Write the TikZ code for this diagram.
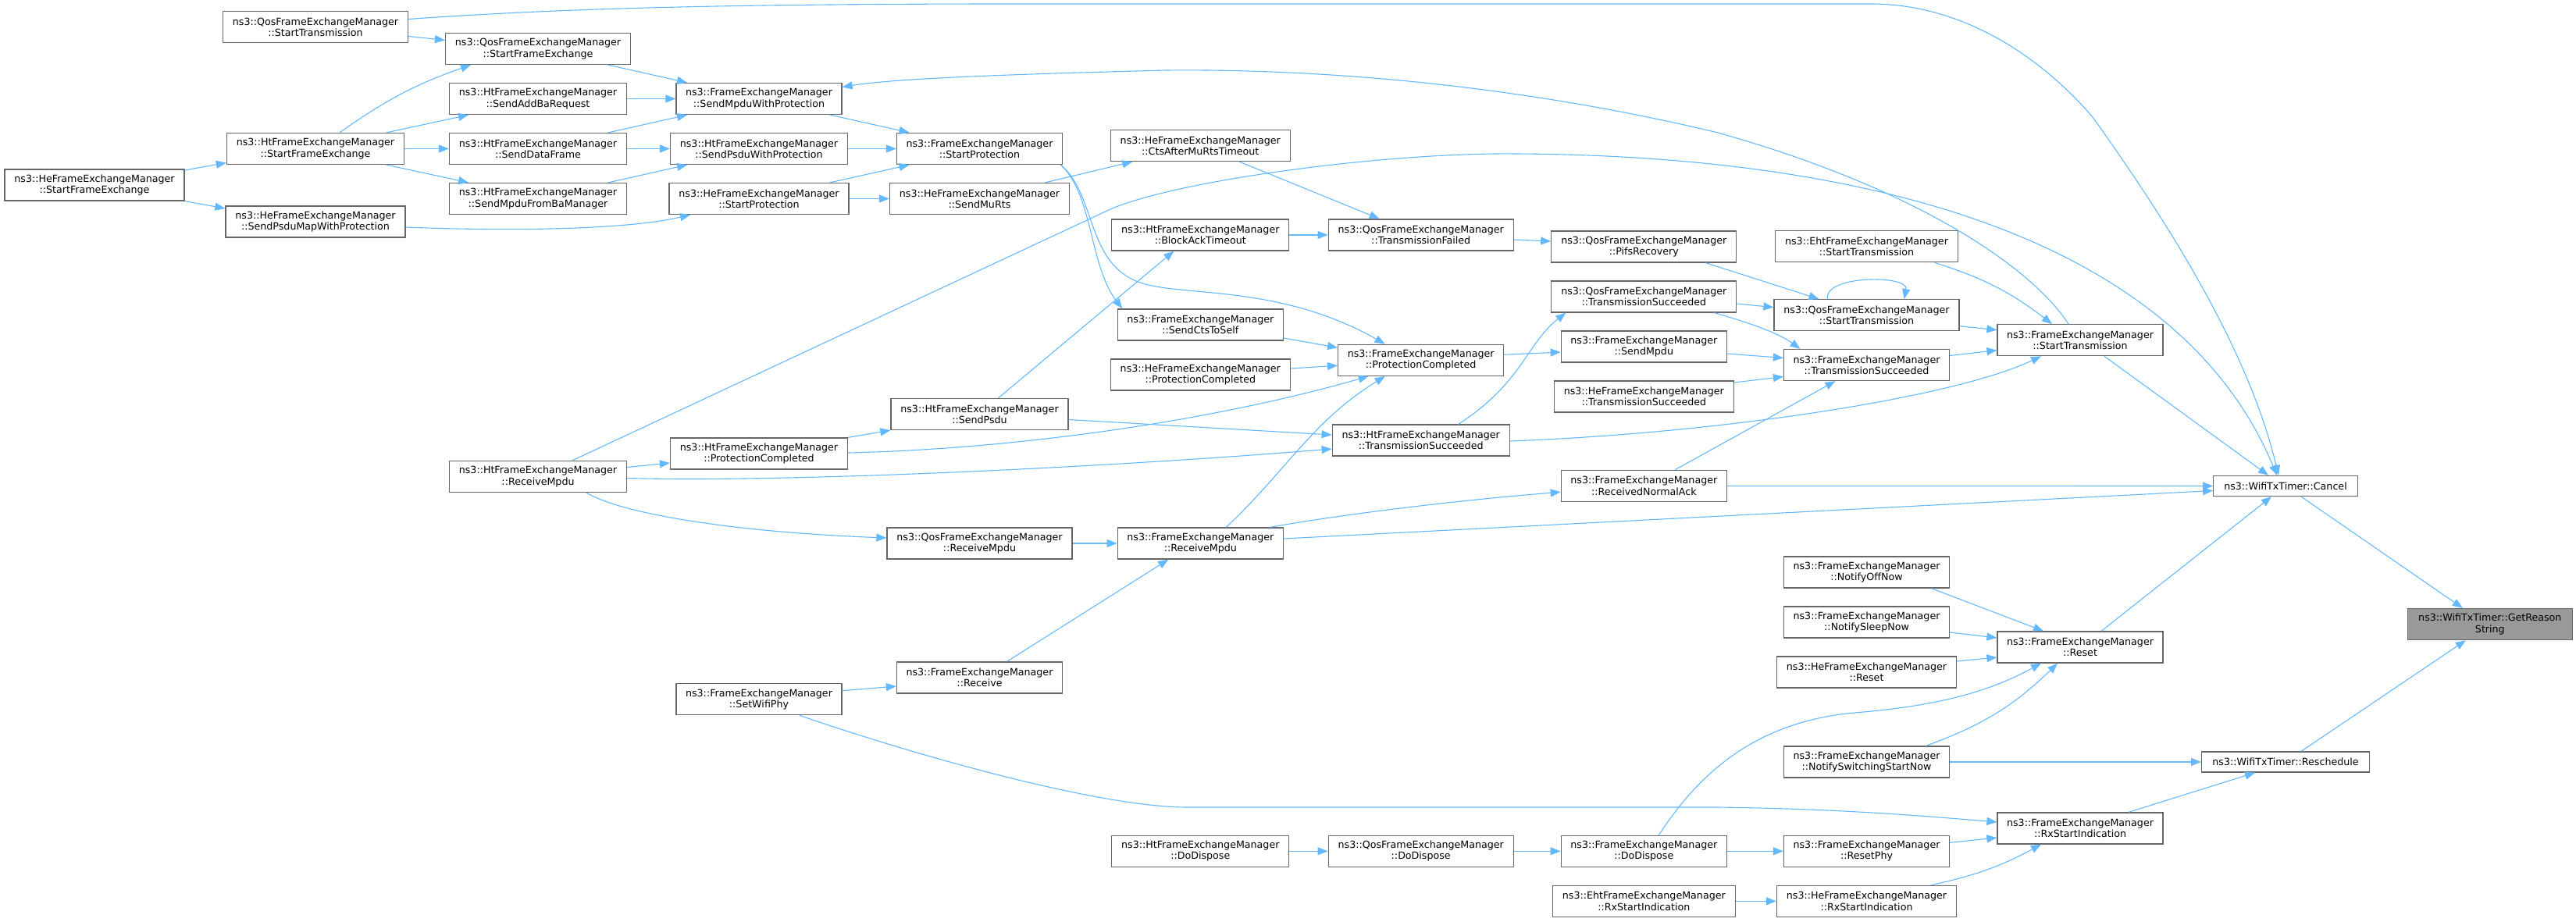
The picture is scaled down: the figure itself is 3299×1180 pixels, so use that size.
\documentclass[tikz,border=0pt]{standalone}
\usepackage{fontspec}
\setmainfont{DejaVu Sans}
\usetikzlibrary{arrows.meta}
\definecolor{edgeblue}{HTML}{63B8FF}
\definecolor{boxgray}{HTML}{666666}
\definecolor{rootgray}{HTML}{999999}
\begin{document}
\begin{tikzpicture}[x=1pt, y=-1pt,
    box/.style={draw=boxgray, fill=white, line width=1.3pt, align=center, inner sep=0pt, minimum height=40pt, font=\fontsize{12.65}{14.2}\selectfont},
    fem/.style={box, minimum width=212pt},
    qos/.style={box, minimum width=237pt},
    ht/.style={box, minimum width=227pt},
    he/.style={box, minimum width=230pt},
    eht/.style={box, minimum width=234pt},
    timer/.style={box, minimum height=26pt},
    call/.style={draw=edgeblue, line width=1.1pt, -{Triangle[length=13pt, width=10pt]}}]
    \useasboundingbox (0, 0) rectangle (3299, 1180);

    % ノードを置く
    \node[he] (HeSFE) at (121, 237) {ns3::HeFrameExchangeManager\\::StartFrameExchange};
    \node[qos] (QosST) at (404, 34.5) {ns3::QosFrameExchangeManager\\::StartTransmission};
    \node[ht] (HtSFE) at (404, 190.5) {ns3::HtFrameExchangeManager\\::StartFrameExchange};
    \node[he] (HeSPMWP) at (404, 284) {ns3::HeFrameExchangeManager\\::SendPsduMapWithProtection};
    \node[qos] (QosSFE) at (689, 62.5) {ns3::QosFrameExchangeManager\\::StartFrameExchange};
    \node[ht] (HtSABR) at (689, 126.5) {ns3::HtFrameExchangeManager\\::SendAddBaRequest};
    \node[ht] (HtSDF) at (689, 190.5) {ns3::HtFrameExchangeManager\\::SendDataFrame};
    \node[ht] (HtSMFBM) at (689, 254.5) {ns3::HtFrameExchangeManager\\::SendMpduFromBaManager};
    \node[ht] (HtRM) at (689, 610.5) {ns3::HtFrameExchangeManager\\::ReceiveMpdu};
    \node[fem] (FemSMWP) at (972, 126.5) {ns3::FrameExchangeManager\\::SendMpduWithProtection};
    \node[ht] (HtSPWP) at (972, 190.5) {ns3::HtFrameExchangeManager\\::SendPsduWithProtection};
    \node[he] (HeSP) at (972, 254.5) {ns3::HeFrameExchangeManager\\::StartProtection};
    \node[ht] (HtPC) at (972, 581) {ns3::HtFrameExchangeManager\\::ProtectionCompleted};
    \node[fem] (FemSWP) at (972, 895.7) {ns3::FrameExchangeManager\\::SetWifiPhy};
    \node[fem] (FemSP) at (1254.5, 190.5) {ns3::FrameExchangeManager\\::StartProtection};
    \node[he] (HeSMR) at (1254.5, 254.5) {ns3::HeFrameExchangeManager\\::SendMuRts};
    \node[ht] (HtSPsdu) at (1254.5, 530.5) {ns3::HtFrameExchangeManager\\::SendPsdu};
    \node[qos] (QosRM) at (1254.5, 696) {ns3::QosFrameExchangeManager\\::ReceiveMpdu};
    \node[fem] (FemRecv) at (1254.5, 868) {ns3::FrameExchangeManager\\::Receive};
    \node[he] (HeCAMRT) at (1537.3, 186.5) {ns3::HeFrameExchangeManager\\::CtsAfterMuRtsTimeout};
    \node[ht] (HtBAT) at (1537.3, 301) {ns3::HtFrameExchangeManager\\::BlockAckTimeout};
    \node[fem] (FemSCTS) at (1537.3, 416) {ns3::FrameExchangeManager\\::SendCtsToSelf};
    \node[he] (HePC) at (1537.3, 480) {ns3::HeFrameExchangeManager\\::ProtectionCompleted};
    \node[fem] (FemRM) at (1537.3, 696) {ns3::FrameExchangeManager\\::ReceiveMpdu};
    \node[ht] (HtDD) at (1537.3, 1090.3) {ns3::HtFrameExchangeManager\\::DoDispose};
    \node[qos] (QosTF) at (1819.7, 301) {ns3::QosFrameExchangeManager\\::TransmissionFailed};
    \node[fem] (FemPC) at (1819.7, 461.3) {ns3::FrameExchangeManager\\::ProtectionCompleted};
    \node[ht] (HtTS) at (1819.7, 564) {ns3::HtFrameExchangeManager\\::TransmissionSucceeded};
    \node[qos] (QosDD) at (1819.7, 1090.3) {ns3::QosFrameExchangeManager\\::DoDispose};
    \node[qos] (QosPR) at (2105.3, 316) {ns3::QosFrameExchangeManager\\::PifsRecovery};
    \node[qos] (QosTS) at (2105.3, 380) {ns3::QosFrameExchangeManager\\::TransmissionSucceeded};
    \node[fem] (FemSM) at (2105.3, 444) {ns3::FrameExchangeManager\\::SendMpdu};
    \node[he] (HeTS) at (2105.3, 508) {ns3::HeFrameExchangeManager\\::TransmissionSucceeded};
    \node[fem] (FemRNA) at (2105.3, 622.3) {ns3::FrameExchangeManager\\::ReceivedNormalAck};
    \node[fem] (FemDD) at (2105.3, 1090.3) {ns3::FrameExchangeManager\\::DoDispose};
    \node[eht] (EhtRSI) at (2105.3, 1154.3) {ns3::EhtFrameExchangeManager\\::RxStartIndication};
    \node[eht] (EhtST) at (2390.5, 315.7) {ns3::EhtFrameExchangeManager\\::StartTransmission};
    \node[qos] (QosSTr) at (2390.5, 403.7) {ns3::QosFrameExchangeManager\\::StartTransmission};
    \node[fem] (FemTS) at (2390.5, 467.5) {ns3::FrameExchangeManager\\::TransmissionSucceeded};
    \node[fem] (FemNON) at (2390.5, 733) {ns3::FrameExchangeManager\\::NotifyOffNow};
    \node[fem] (FemNSN) at (2390.5, 797) {ns3::FrameExchangeManager\\::NotifySleepNow};
    \node[he] (HeReset) at (2390.5, 861) {ns3::HeFrameExchangeManager\\::Reset};
    \node[fem] (FemNSSN) at (2390.5, 976) {ns3::FrameExchangeManager\\::NotifySwitchingStartNow};
    \node[fem] (FemRP) at (2390.5, 1090.3) {ns3::FrameExchangeManager\\::ResetPhy};
    \node[he] (HeRSI) at (2390.5, 1154.3) {ns3::HeFrameExchangeManager\\::RxStartIndication};
    \node[fem] (FemST) at (2664, 435.7) {ns3::FrameExchangeManager\\::StartTransmission};
    \node[fem] (FemReset) at (2664, 829) {ns3::FrameExchangeManager\\::Reset};
    \node[fem] (FemRSI) at (2664, 1061) {ns3::FrameExchangeManager\\::RxStartIndication};
    \node[timer, minimum width=184.5pt] (Cancel) at (2927, 622.5) {ns3::WifiTxTimer::Cancel};
    \node[timer, minimum width=214.7pt] (Resched) at (2927, 976) {ns3::WifiTxTimer::Reschedule};
    \node[box, fill=rootgray, minimum width=211pt] (GRS) at (3188.8, 799.5) {ns3::WifiTxTimer::GetReason\\String};

    % 線を引く
    \draw[call] ([yshift=10pt]QosST.east) .. controls (700, 12) and (900, 5) .. (1300, 5) -- (2396, 5)
        .. controls (2520, 5) and (2620, 80) .. (2680, 150) .. controls (2780, 290) and (2880, 450) .. ([xshift=-9pt]Cancel.north);
    \draw[call] ([yshift=-12pt]QosST.east) -- ([yshift=11pt]QosSFE.west);
    \draw[call] ([xshift=90pt]QosSFE.south) -- ([xshift=-92pt]FemSMWP.north);
    \draw[call] (HtSABR.east) -- (FemSMWP.west);
    \draw[call] ([xshift=31pt]HtSFE.north) to[bend left=8] ([xshift=-86pt]QosSFE.south);
    \draw[call] ([xshift=91pt]HtSFE.north) -- ([xshift=-89pt]HtSABR.south);
    \draw[call] (HtSFE.east) -- (HtSDF.west);
    \draw[call] ([xshift=91pt]HtSFE.south) -- ([xshift=-89pt]HtSMFBM.north);
    \draw[call] ([xshift=90pt]HtSDF.north) -- ([xshift=-92pt]FemSMWP.south);
    \draw[call] (HtSDF.east) -- (HtSPWP.west);
    \draw[call] ([xshift=90pt]HtSMFBM.north) -- ([xshift=-92pt]HtSPWP.south);
    \draw[call] ([yshift=19pt]HeSFE.east) -- ([yshift=-18pt]HtSFE.west);
    \draw[call] (HeSFE.south east) -- ([yshift=17pt]HeSPMWP.west);
    \draw[call] ([yshift=-7pt]HeSPMWP.east) .. controls (640, 296) and (800, 295) .. ([xshift=-88pt]HeSP.south);
    \draw[call] ([xshift=91pt]FemSMWP.south) -- ([xshift=-90pt]FemSP.north);
    \draw[call] (HtSPWP.east) -- (FemSP.west);
    \draw[call] ([xshift=91pt]HeSP.north) -- ([xshift=-90pt]FemSP.south);
    \draw[call] (HeSP.east) -- (HeSMR.west);
    \draw[call] ([xshift=-15pt]FemST.north) .. controls (2600, 340) and (2450, 240) .. (2200, 170)
        .. controls (1950, 110) and (1700, 88) .. (1493, 90) .. controls (1300, 95) and (1150, 100) .. ([yshift=15pt]FemSMWP.east);
    \draw[call] ([xshift=44pt]HtRM.north) -- (1422, 268) .. controls (1510, 230) and (1780, 195) .. (1942, 197)
        .. controls (2450, 200) and (2800, 330) .. ([xshift=-11pt]Cancel.north);
    \draw[call] ([yshift=12pt]HtRM.east) -- ([yshift=-12pt]HtPC.west);
    \draw[call] ([yshift=-2pt]HtRM.east) .. controls (1000, 618) and (1400, 600) .. ([yshift=-11pt]HtTS.west);
    \draw[call] ([xshift=62pt]HtRM.south) .. controls (800, 660) and (950, 682) .. ([yshift=7pt]QosRM.west);
    \draw[call] (HtPC.north east) -- (HtSPsdu.south west);
    \draw[call] ([yshift=1pt]HtPC.east) .. controls (1300, 575) and (1550, 540) .. ([xshift=-67pt]FemPC.south);
    \draw[call] ([xshift=24pt]HtSPsdu.north) -- ([xshift=-34pt]HtBAT.south);
    \draw[call] ([yshift=-7pt]HtSPsdu.east) -- ([yshift=7pt]HtTS.west);
    \draw[call] ([yshift=8pt]HePC.east) -- ([yshift=-7pt]FemPC.west);
    \draw[call] ([xshift=33pt]FemRM.north) .. controls (1650, 600) and (1680, 540) .. ([xshift=-46pt]FemPC.south);
    \draw[call] ([xshift=89pt]FemRM.north) .. controls (1700, 662) and (1850, 642) .. ([yshift=-8pt]FemRNA.west);
    \draw[call] ([yshift=6pt]FemRM.east) -- ([yshift=-6pt]Cancel.west);
    \draw[call] (QosRM.east) -- (FemRM.west);
    \draw[call] ([xshift=35pt]FemRecv.north) -- ([xshift=-41pt]FemRM.south);
    \draw[call] ([yshift=11pt]FemSWP.east) -- ([yshift=-11pt]FemRecv.west);
    \draw[call] ([xshift=52pt]FemSWP.south) .. controls (1150, 960) and (1400, 1034) .. (1521, 1034) -- (2200, 1034)
        .. controls (2350, 1036) and (2450, 1044) .. ([yshift=8pt]FemRSI.west);
    \draw[call] ([xshift=50pt]HeCAMRT.south) -- ([xshift=-53pt]QosTF.north);
    \draw[call] ([xshift=84pt]HeSMR.north) -- ([xshift=-87pt]HeCAMRT.south);
    \draw[call] (HtBAT.east) -- (QosTF.west);
    \draw[call] ([yshift=-6pt]QosTF.east) -- ([yshift=7pt]QosPR.west);
    \draw[call] ([xshift=104pt]FemSP.south) .. controls (1400, 250) and (1395, 340) .. ([xshift=-100pt]FemSCTS.north);
    \draw[call] ([xshift=104pt]FemSP.south) .. controls (1405, 250) and (1390, 340) .. (1463, 363)
        .. controls (1520, 380) and (1640, 365) .. ([xshift=-46pt]FemPC.north);
    \draw[call] ([yshift=-17pt]FemSCTS.east) -- ([yshift=16pt]FemPC.west);
    \draw[call] ([yshift=7pt]FemPC.east) -- ([yshift=-7pt]FemSM.west);
    \draw[call] ([xshift=48pt]HtTS.north) .. controls (1950, 490) and (1955, 440) .. ([xshift=-100pt]QosTS.south);
    \draw[call] ([xshift=79pt]QosPR.south) -- ([xshift=-61pt]QosSTr.north);
    \draw[call] ([yshift=-9pt]QosTS.east) -- ([yshift=10pt]QosSTr.west);
    \draw[call] ([xshift=90pt]QosTS.south) .. controls (2235, 412) and (2275, 425) .. ([xshift=-85pt]FemTS.north);
    \draw[call] ([yshift=-9pt]FemSM.east) -- ([yshift=9pt]FemTS.west);
    \draw[call] ([xshift=-50pt]QosSTr.north) .. controls (2335, 352) and (2445, 352) .. ([xshift=48pt]QosSTr.north);
    \draw[call] ([yshift=-14pt]QosSTr.east) -- ([yshift=13pt]FemST.west);
    \draw[call] ([xshift=87pt]EhtST.south) to[bend left=10] ([xshift=-36pt]FemST.north);
    \draw[call] ([yshift=12pt]FemTS.east) -- ([yshift=-13pt]FemST.west);
    \draw[call] ([yshift=-1pt]HtTS.east) .. controls (2200, 555) and (2500, 510) .. ([xshift=-50pt]FemST.south);
    \draw[call] ([xshift=40pt]FemRNA.north) -- ([xshift=-40pt]FemTS.south);
    \draw[call] ([yshift=18pt]HeTS.east) -- ([yshift=-15pt]FemTS.west);
    \draw[call] ([xshift=31pt]FemST.south) -- ([xshift=-22pt]Cancel.north);
    \draw[call] (FemRNA.east) -- (Cancel.west);
    \draw[call] ([xshift=27pt]FemReset.north) -- ([xshift=-18pt]Cancel.south);
    \draw[call] ([xshift=20pt]Cancel.south) -- ([xshift=-35pt]GRS.north);
    \draw[call] ([xshift=83pt]FemNON.south) -- ([xshift=-47pt]FemReset.north);
    \draw[call] ([yshift=-13pt]FemNSN.east) -- ([yshift=12pt]FemReset.west);
    \draw[call] ([yshift=14pt]HeReset.east) -- ([yshift=-13pt]FemReset.west);
    \draw[call] ([xshift=19pt]FemDD.north) .. controls (2170, 1000) and (2240, 925) .. (2375, 913)
        .. controls (2470, 905) and (2540, 890) .. ([xshift=-50pt]FemReset.south);
    \draw[call] ([xshift=76pt]FemNSSN.north) to[bend right=12] ([xshift=-29pt]FemReset.south);
    \draw[call] (FemNSSN.east) -- (Resched.west);
    \draw[call] ([xshift=20pt]Resched.north) -- ([xshift=-31pt]GRS.south);
    \draw[call] ([xshift=62pt]FemRSI.north) -- ([xshift=-39pt]Resched.south);
    \draw[call] ([yshift=11pt]FemRP.east) -- ([yshift=-12pt]FemRSI.west);
    \draw[call] ([xshift=83pt]HeRSI.north) to[bend right=8] ([xshift=-50pt]FemRSI.south);
    \draw[call] (FemDD.east) -- (FemRP.west);
    \draw[call] (EhtRSI.east) -- (HeRSI.west);
    \draw[call] (HtDD.east) -- (QosDD.west);
    \draw[call] (QosDD.east) -- (FemDD.west);

\end{tikzpicture}
\end{document}
